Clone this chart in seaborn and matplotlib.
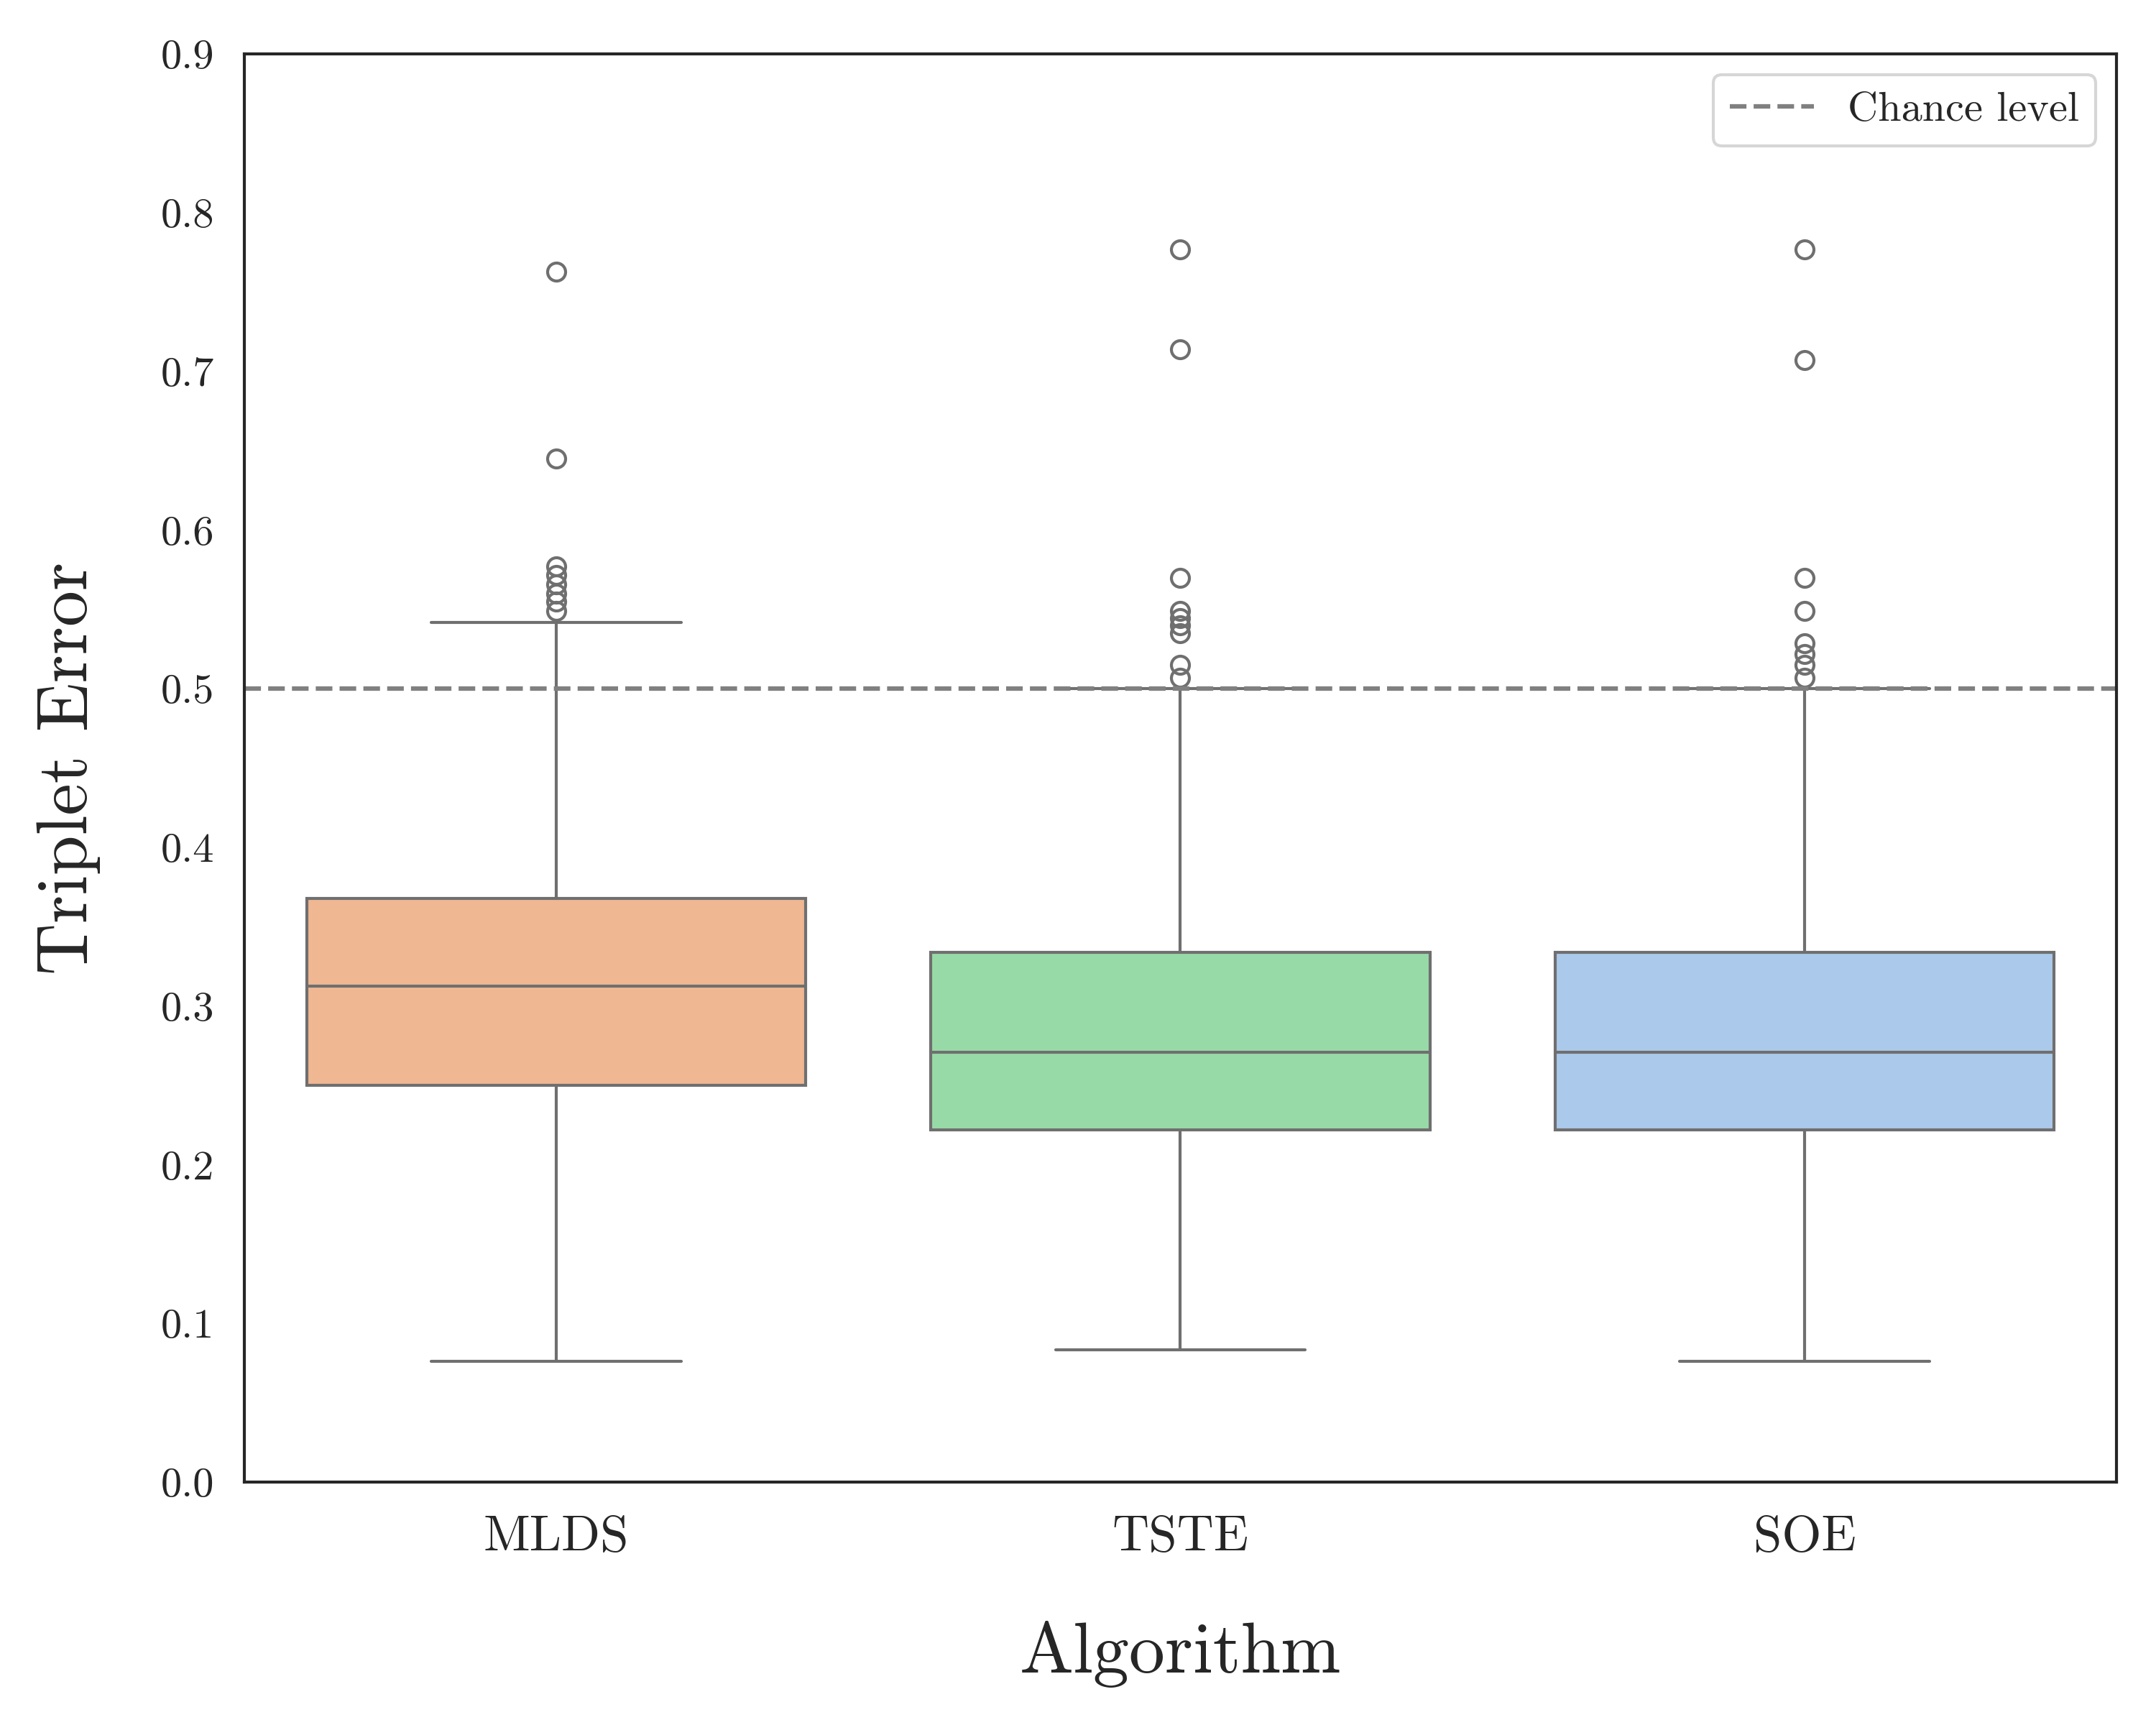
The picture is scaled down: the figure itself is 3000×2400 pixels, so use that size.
import matplotlib
matplotlib.use("Agg")
import matplotlib.pyplot as plt
import seaborn as sns
import pandas as pd

# ---- data ----
categories = ["MLDS", "TSTE", "SOE"]
whisker_low = [0.0762, 0.0835, 0.0762]
q1 = [0.250, 0.222, 0.222]
median = [0.3125, 0.271, 0.271]
q3 = [0.368, 0.334, 0.334]
whisker_high = [0.5417, 0.500, 0.500]
outliers_mlds = [0.763, 0.645, 0.577, 0.5715, 0.566, 0.560, 0.555, 0.549]
outliers_tste = [0.777, 0.714, 0.570, 0.549, 0.5444, 0.540, 0.535, 0.515, 0.507]
outliers_soe = [0.777, 0.707, 0.570, 0.549, 0.5285, 0.5217, 0.515, 0.507]
chance_level = 0.5
y_ticks = [0.0, 0.1, 0.2, 0.3, 0.4, 0.5, 0.6, 0.7, 0.8, 0.9]

outliers = [outliers_mlds, outliers_tste, outliers_soe]

# Build a sample per algorithm whose box statistics reproduce the figure:
# each quartile value is repeated so that numpy's percentiles land on it.
block = 12
rows = []
for i, cat in enumerate(categories):
    vals = ([whisker_low[i]] + [q1[i]] * block + [median[i]] * block +
            [q3[i]] * block + [whisker_high[i]] + list(outliers[i]))
    for v in vals:
        rows.append({"Algorithm": cat, "Triplet Error": v})
df = pd.DataFrame(rows)

sns.set_theme(context="notebook", style="white")
plt.rcParams["font.family"] = "serif"
plt.rcParams["font.serif"] = ["cmr10", "DejaVu Serif"]
plt.rcParams["mathtext.fontset"] = "cm"
plt.rcParams["axes.formatter.use_mathtext"] = True
plt.rcParams["axes.linewidth"] = 1.0

pastel = sns.color_palette("pastel")
palette = [pastel[1], pastel[2], pastel[0]]

fig = plt.figure(figsize=(10, 8), dpi=300)
ax = fig.add_axes([0.1133, 0.1408, 0.8684, 0.8279])

sns.boxplot(data=df, x="Algorithm", y="Triplet Error", hue="Algorithm",
            order=categories, hue_order=categories, palette=palette,
            legend=False, ax=ax, linewidth=1.0, fliersize=6)

ax.axhline(chance_level, color="gray", linestyle="--", linewidth=1.5,
           label="Chance level")
ax.legend(loc="upper right", fontsize=14)

ax.set_ylim(0.0, 0.9)
ax.set_yticks(y_ticks)
ax.set_yticklabels([f"{t:.1f}" for t in y_ticks])
ax.tick_params(axis="y", labelsize=14, pad=10, length=0)
ax.tick_params(axis="x", labelsize=17, pad=11, length=0)
ax.set_xlabel("Algorithm", fontsize=24, labelpad=20)
ax.set_ylabel("Triplet Error", fontsize=24, labelpad=20)

fig.savefig("out.png", dpi=300)
